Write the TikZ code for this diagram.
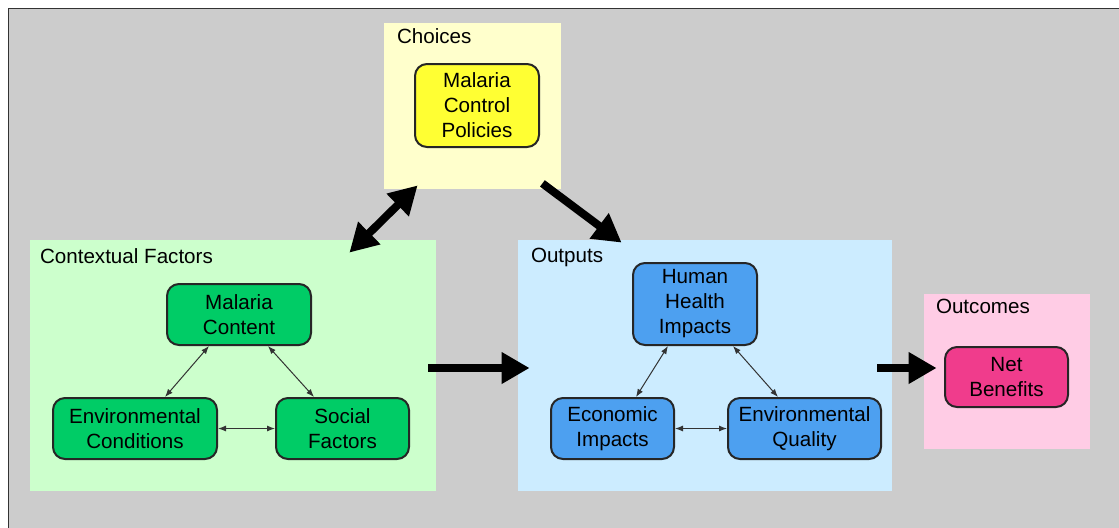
\documentclass[tikz,border=0pt]{standalone}
\usepackage{fontspec}
\setmainfont{Liberation Sans}
\usepackage{xcolor}
\usetikzlibrary{arrows.meta}
\usetikzlibrary{calc}
\definecolor{bggray}{RGB}{204,204,204}
\definecolor{paleyellow}{RGB}{255,255,204}
\definecolor{nodeyellow}{RGB}{255,255,51}
\definecolor{palegreen}{RGB}{204,255,204}
\definecolor{nodegreen}{RGB}{0,204,102}
\definecolor{paleblue}{RGB}{204,236,255}
\definecolor{nodeblue}{RGB}{77,160,240}
\definecolor{palepink}{RGB}{255,204,229}
\definecolor{nodepink}{RGB}{240,60,140}

\begin{document}
\begin{tikzpicture}[x=0.5pt,y=-0.5pt,
		every node/.style={font=\fontsize{10.3}{12.5}\selectfont},
		groupbox/.style={draw=none,inner sep=0pt},
		grouplabel/.style={anchor=base west,inner sep=0pt},
		factor/.style={draw=black!85,line width=1pt,rounded corners=6pt,align=center,inner sep=0pt},
		bigarrow/.style={line width=4pt,-{Triangle[length=14pt,width=15pt]}},
		bigboth/.style={line width=4pt,{Triangle[length=14pt,width=15pt]}-{Triangle[length=14pt,width=15pt]}},
		thinboth/.style={line width=0.5pt,black!80,{Latex[length=4pt,width=3pt]}-{Latex[length=4pt,width=3pt]}}]
		\useasboundingbox (0,0) rectangle (1119,527);
		\draw[black!80,line width=0.8pt,fill=bggray] (8.5,8.5) rectangle (1140,545);

		\node[groupbox,fill=paleyellow,minimum width=88.5pt,minimum height=83pt] (choices) at (472.5,106) {};
		\node[groupbox,fill=palegreen,minimum width=203pt,minimum height=125.5pt] (ctx) at (233,365.5) {};
		\node[groupbox,fill=paleblue,minimum width=187pt,minimum height=125.5pt] (outp) at (705,365.5) {};
		\node[groupbox,fill=palepink,minimum width=83pt,minimum height=77.5pt] (outc) at (1007,371.5) {};

		\node[grouplabel] (choiceslbl) at ($(choices.north west)+(13,21)$) {Choices};
		\node[grouplabel] (ctxlbl) at ($(ctx.north west)+(10,24)$) {Contextual Factors};
		\node[grouplabel] (outplbl) at ($(outp.north west)+(13,23)$) {Outputs};
		\node[grouplabel] (outclbl) at ($(outc.north west)+(12,20)$) {Outcomes};

		\node[factor,fill=nodeyellow,minimum width=62pt,minimum height=41.5pt] (policies) at (477,105.5) {Malaria\\Control\\Policies};

		\node[factor,fill=nodegreen,minimum width=72pt,minimum height=30.5pt] (mcontent) at (239,314.5) {Malaria\\Content};
		\node[factor,fill=nodegreen,minimum width=82pt,minimum height=30.5pt] (envcond) at (135,428.5) {Environmental\\Conditions};
		\node[factor,fill=nodegreen,minimum width=66.5pt,minimum height=30.5pt] (social) at (342.5,428.5) {Social\\Factors};

		\node[factor,fill=nodeblue,minimum width=62pt,minimum height=41pt] (health) at (695,304) {Human\\Health\\Impacts};
		\node[factor,fill=nodeblue,minimum width=61.5pt,minimum height=30.5pt] (econ) at (612.5,428.5) {Economic\\Impacts};
		\node[factor,fill=nodeblue,minimum width=76.5pt,minimum height=30.5pt] (envqual) at (804.5,428.5) {Environmental\\Quality};

		\node[factor,fill=nodepink,minimum width=61.5pt,minimum height=30pt] (net) at (1006.5,377) {Net\\Benefits};

		\draw[thinboth] ($(mcontent.south)+(-30,0)$) -- ($(envcond.north)+(30,0)$);
		\draw[thinboth] ($(mcontent.south)+(29,0)$) -- ($(social.north)+(-28.5,0)$);
		\draw[thinboth] (envcond.east) -- (social.west);

		\draw[thinboth] ($(health.south)+(-27,0)$) -- ($(econ.north)+(23.5,0)$);
		\draw[thinboth] ($(health.south)+(38,0)$) -- ($(envqual.north)+(-26.5,0)$);
		\draw[thinboth] (econ.east) -- (envqual.west);

		\draw[bigboth] ($(choices.south west)+(34,-4)$) -- ($(ctx.north east)+(-87,13)$);
		\draw[bigarrow] ($(choices.south east)+(-19,-6)$) -- ($(outp.north west)+(104,3)$);
		\draw[bigarrow] ($(ctx.east)+(-8,2.5)$) -- ($(outp.west)+(12,2.5)$);
		\draw[bigarrow] ($(outp.east)+(-15,2.5)$) -- ($(outc.west)+(13,-3.5)$);
	\end{tikzpicture}
\end{document}
